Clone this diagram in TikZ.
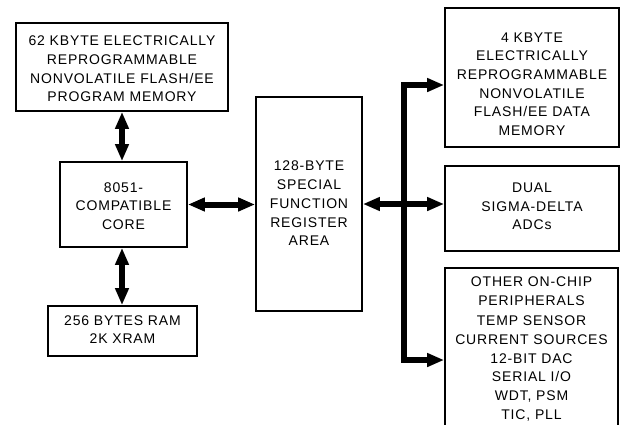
\documentclass[tikz,border=0pt]{standalone}
\usepackage{fontspec}
\setmainfont[LetterSpace=6]{Liberation Sans}
\usetikzlibrary{arrows.meta}
\tikzset{
  box/.style={draw=black, line width=1.8pt, rectangle, inner sep=0pt},
  txt/.style={align=center, inner sep=0pt, font=\fontsize{14}{18.7}\selectfont},
  arr/.style={line width=6pt, {Triangle[length=17pt,width=13pt]}-{Triangle[length=17pt,width=13pt]}},
  busline/.style={line width=6pt, line join=miter, {Triangle[length=17pt,width=13pt]}-{Triangle[length=17pt,width=13pt]}}
}
\begin{document}
\begin{tikzpicture}[x=1pt,y=-1pt]
\useasboundingbox (0,0) rectangle (620,424);
% boxes
\node[box, minimum width=212pt, minimum height=88pt] (pm) at (122,67) {};
\node[txt] (pmt) at (122,69) {62 KBYTE ELECTRICALLY\\REPROGRAMMABLE\\NONVOLATILE FLASH/EE\\PROGRAM MEMORY};
\node[box, minimum width=127pt, minimum height=85pt] (core) at (123.5,204.5) {};
\node[txt] (coret) at (123.5,206) {8051-\\COMPATIBLE\\CORE};
\node[box, minimum width=149pt, minimum height=50pt] (ram) at (122.5,331) {};
\node[txt] (ramt) at (122.5,329.5) {256 BYTES RAM\\2K XRAM};
\node[box, minimum width=106pt, minimum height=214pt] (sfr) at (309,204) {};
\node[txt] (sfrt) at (309,203.5) {128-BYTE\\SPECIAL\\FUNCTION\\REGISTER\\AREA};
\node[box, minimum width=174pt, minimum height=139pt] (dm) at (532,77.5) {};
\node[txt] (dmt) at (532,84) {4 KBYTE\\ELECTRICALLY\\REPROGRAMMABLE\\NONVOLATILE\\FLASH/EE DATA\\MEMORY};
\node[box, minimum width=174pt, minimum height=85pt] (adc) at (532,208.5) {};
\node[txt] (adct) at (532,206.5) {DUAL\\SIGMA-DELTA\\ADCs};
\node[box, minimum width=173pt, minimum height=180pt] (oth) at (531.5,358) {};
\node[txt] (otht1) at (531.5,291) {OTHER ON-CHIP\\PERIPHERALS};
\node[txt] (otht2) at (531.5,368.5) {TEMP SENSOR\\CURRENT SOURCES\\12-BIT DAC\\SERIAL I/O\\WDT, PSM\\TIC, PLL};
% connectors
\draw[arr] (pm.south) -- (pm.south |- core.north);
\draw[arr] (core.south) ++(-1.5,0) coordinate (cs) -- (cs |- ram.north);
\draw[arr] (core.east) -- (core.east -| sfr.west);
\draw[arr] (sfr.east) -- (sfr.east -| adc.west);
\coordinate (bt) at (404,85);
\coordinate (bb) at (404,360);
\draw[busline] (bt -| dm.west) -- (bt) -- (bb) -- (bb -| oth.west);
\end{tikzpicture}
\end{document}
